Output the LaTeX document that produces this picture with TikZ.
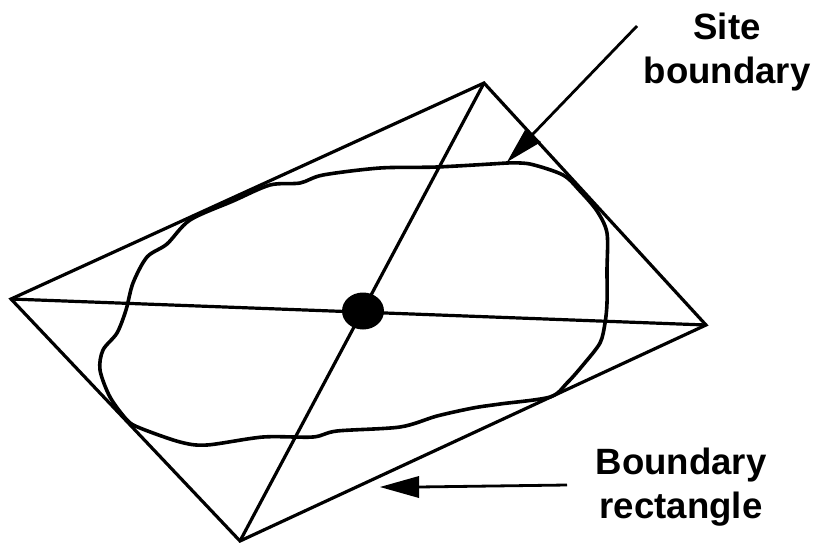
\documentclass[tikz,border=0pt]{standalone}
\usepackage{fontspec}
\setmainfont{Liberation Sans}
\usetikzlibrary{shapes.geometric}
\begin{document}
\begin{tikzpicture}[x=1pt,y=-1pt,
 rectline/.style={line width=3.2pt,line join=miter},
 siteline/.style={line width=3.6pt,line cap=round,line join=round},
 shaft/.style={line width=2.8pt},
 lab/.style={font=\bfseries\fontsize{36.6}{44}\selectfont,align=center,text=black,inner sep=0pt},
 tip/.style={fill=black,draw=none}]
\useasboundingbox (0,0) rectangle (818,546);
\coordinate (N) at (484,83);
\coordinate (E) at (706,325);
\coordinate (S) at (240,541);
\coordinate (W) at (11,299);
\draw[rectline] (N) -- (E) -- (S) -- (W) -- cycle;
\draw[rectline] (N) -- (S);
\draw[rectline] (W) -- (E);
\node[fill=black,ellipse,minimum width=42pt,minimum height=37pt,inner sep=0pt] (C) at (363,311) {};
\draw[siteline] plot[smooth,tension=0.5] coordinates {
 (507,163) (530,164) (563,175) (580,191) (597,211) (607,233) (607,270) (607,303) (605,323) (600,343) (583,365) (567,383) (550,397) (500,404) (473,408) (437,416) (400,427) (337,431) (313,437) (263,437) (207,445) (180,442) (140,428) (127,420) (110,397) (100,370) (103,350) (117,333) (126,310) (133,283) (147,257) (167,244) (190,220) (233,201) (270,185) (300,183) (323,175) (380,168) (437,167) (507,163)};
\coordinate (A1) at (637,26);
\coordinate (A2) at (532,135);
\coordinate (A3) at (507,162);
\draw[shaft] (A1) -- (A2);
\fill[tip] (A3) -- (525,130) -- (541,142) -- cycle;
\coordinate (B1) at (567,485);
\coordinate (B2) at (418,487);
\coordinate (B3) at (380,487);
\draw[shaft] (B1) -- (B2);
\fill[tip] (B3) -- (419,476) -- (419,498) -- cycle;
\node[lab] (site) at (727,52) {Site\\boundary};
\node[lab] (brect) at (681,487) {Boundary\\rectangle};
\end{tikzpicture}
\end{document}
